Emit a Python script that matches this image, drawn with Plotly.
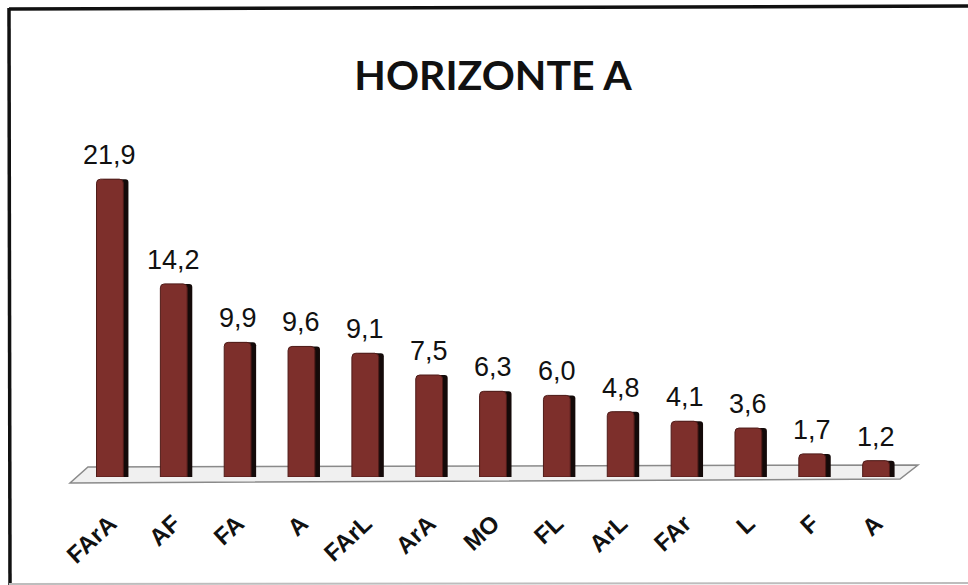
import plotly.graph_objects as go

# Texture classes, horizon A (%)
categories = ["FArA", "AF", "FA", "A", "FArL", "ArA", "MO", "FL", "ArL", "FAr", "L", "F", "A"]
values = [21.9, 14.2, 9.9, 9.6, 9.1, 7.5, 6.3, 6.0, 4.8, 4.1, 3.6, 1.7, 1.2]
title_text = "HORIZONTE A"

positions = list(range(len(categories)))
labels = [f"{v:.1f}".replace(".", ",") for v in values]

W, H = 968, 585
PL, PR, PT, PB = 78, 908, 130, 477  # plot-area edges in pixels


def px(x):
    return (x - PL) / (PR - PL)


def py(y):
    return (PB - y) / (PB - PT)


fig = go.Figure()

# dark side face of each column
fig.add_trace(go.Bar(
    x=positions, y=values, width=0.42, offset=-0.13,
    marker=dict(color="#140a09", line=dict(width=0), cornerradius=3),
    hoverinfo="skip", showlegend=False,
))
# front face
fig.add_trace(go.Bar(
    x=positions, y=values, width=0.42, offset=-0.21,
    marker=dict(color="#7d2f2b", line=dict(color="#4f1b18", width=1), cornerradius=4),
    showlegend=False,
))

for x, v, t in zip(positions, values, labels):
    fig.add_annotation(
        x=x, y=v, text=t, showarrow=False, yshift=24, yanchor="middle",
        font=dict(family="Liberation Sans, Arial", size=27, color="#111111"),
    )

# floor plane under the columns
floor = [(70, 483), (900, 479), (918, 465), (88, 467)]
path = "M " + " L ".join(f"{px(a):.4f},{py(b):.4f}" for a, b in floor) + " Z"
fig.add_shape(type="path", path=path, xref="paper", yref="paper", layer="below",
              fillcolor="#f0f0f0", line=dict(color="#8a8a8a", width=1.5))

# outer frame
fig.add_shape(type="line", xref="paper", yref="paper", x0=px(9), y0=py(9), x1=px(975), y1=py(6),
              line=dict(color="#111111", width=3.5))
fig.add_shape(type="line", xref="paper", yref="paper", x0=px(9), y0=py(8), x1=px(10), y1=py(585),
              line=dict(color="#111111", width=3.5))
fig.add_shape(type="line", xref="paper", yref="paper", x0=px(9), y0=py(584), x1=px(968), y1=py(583),
              line=dict(color="#bdbdbd", width=2))

fig.update_layout(
    width=W, height=H,
    margin=dict(l=PL, r=W - PR, t=PT, b=H - PB),
    paper_bgcolor="white", plot_bgcolor="rgba(0,0,0,0)",
    barmode="overlay",
    title=dict(text=f"<b>{title_text}</b>", x=0.5, xref="paper", y=1 - 76 / H,
               yref="container", xanchor="center", yanchor="middle",
               font=dict(family="Lato, Open Sans", size=41, color="#111111")),
    xaxis=dict(range=[-0.5, len(categories) - 0.5], tickmode="array", tickvals=positions,
               ticktext=[f"<b>{c}</b>" for c in categories], tickangle=-43,
               tickfont=dict(family="Liberation Sans, Arial", size=24, color="#111111"),
               showgrid=False, zeroline=False, showline=False, ticks="outside",
               ticklen=0, ticklabelstandoff=22),
    yaxis=dict(range=[0, (PB - PT) / 13.6], visible=False),
    showlegend=False,
)

fig.write_html("out.html")
